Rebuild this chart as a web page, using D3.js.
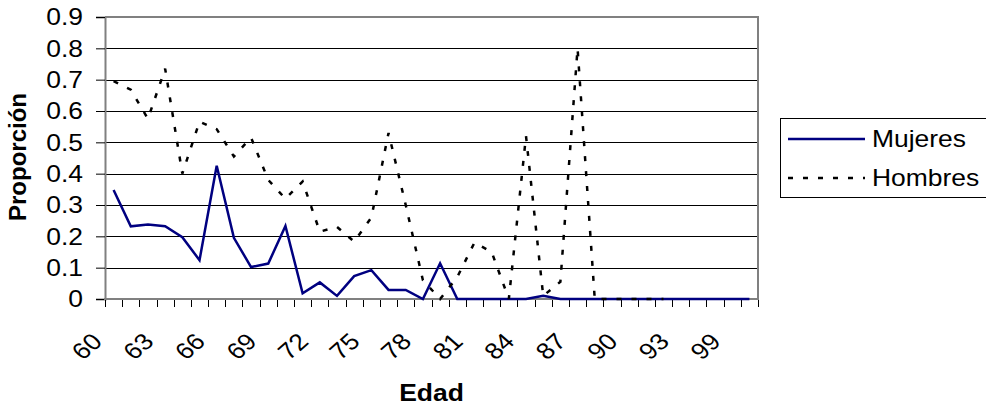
<!DOCTYPE html>
<html>
<head>
<meta charset="utf-8">
<script src="https://cdn.jsdelivr.net/npm/d3@7"></script>
<style>
  body { margin: 0; background: #fff; }
  text { font-family: Arial, "Liberation Sans", sans-serif; }
</style>
</head>
<body>
<div class="canvas"></div>
<script>
// categories (edad) and series
const edades = ['60','61','62','63','64','65','66','67','68','69','70','71','72','73','74','75','76','77','78','79',
                '80','81','82','83','84','85','86','87','88','89','90','91','92','93','95','97','99','100'];
const mujeres = [0.348,0.232,0.238,0.232,0.197,0.124,0.425,0.195,0.102,0.113,0.233,0.018,0.053,0.010,0.073,0.092,0.029,0.029,0,0.114,
                 0,0,0,0,0,0.010,0,0,0,0,0,0,0,0,0,0,0,0];
const hombres = [0.695,0.668,0.575,0.735,0.400,0.566,0.542,0.455,0.515,0.380,0.320,0.375,0.215,0.230,0.183,0.260,0.530,0.300,0.060,0,
                 0.070,0.180,0.150,0,0.520,0.010,0.055,0.800,0,0,0,0,0];
const xTickLabels = ['60','63','66','69','72','75','78','81','84','87','90','93','99'];
const yTicks = [0,0.1,0.2,0.3,0.4,0.5,0.6,0.7,0.8,0.9];

const width = 986, height = 408;
const margin = {top: 17, right: 228, bottom: 109, left: 105};
const graphWidth = width - margin.left - margin.right;
const graphHeight = height - margin.top - margin.bottom;
const fontSize = 23;
const stretch = 1.15;   // text in the reference is a bit wider than tall

const svg = d3.select('.canvas')
  .append('svg')
    .attr('width', width)
    .attr('height', height);

const graph = svg.append('g')
  .attr('transform', `translate(${margin.left}, ${margin.top})`);

const x = d3.scaleBand()
  .domain(edades)
  .range([0, graphWidth])
  .padding(0);

const y = d3.scaleLinear()
  .domain([0, 0.9])
  .range([graphHeight, 0]);

// gridlines
graph.append('g')
  .selectAll('line')
  .data(yTicks.filter(d => d > 0 && d < 0.9))
  .enter().append('line')
    .attr('x1', 0)
    .attr('x2', graphWidth)
    .attr('y1', d => Math.round(y(d)) + 0.5)
    .attr('y2', d => Math.round(y(d)) + 0.5)
    .attr('stroke', '#000')
    .attr('stroke-width', 1);

// plot border (top / right)
graph.append('path')
  .attr('d', `M0,0H${graphWidth}V${graphHeight}`)
  .attr('fill', 'none')
  .attr('stroke', '#808080')
  .attr('stroke-width', 2);

// y axis
const yAxis = d3.axisLeft(y)
  .tickValues(yTicks)
  .tickSize(9)
  .tickFormat('');

const yAxisGroup = graph.append('g').call(yAxis);
yAxisGroup.select('.domain').attr('stroke', '#808080').attr('stroke-width', 2);
yAxisGroup.selectAll('.tick line').attr('stroke', '#000');

graph.append('g')
  .selectAll('text')
  .data(yTicks)
  .enter().append('text')
    .attr('transform', d => `translate(-22, ${y(d)}) scale(${stretch}, 1)`)
    .attr('dy', '0.36em')
    .attr('text-anchor', 'end')
    .attr('font-size', fontSize)
    .attr('fill', '#000')
    .text(d => d === 0 ? '0' : d3.format('.1f')(d));

// x axis: ticks on category boundaries
const bounds = edades.map(d => x(d)).concat([graphWidth]);
const xAxisGroup = graph.append('g')
  .attr('transform', `translate(0, ${graphHeight})`);

xAxisGroup.selectAll('line')
  .data(bounds)
  .enter().append('line')
    .attr('x1', d => Math.round(d) + 0.5)
    .attr('x2', d => Math.round(d) + 0.5)
    .attr('y1', 0)
    .attr('y2', 8)
    .attr('stroke', '#000');

xAxisGroup.append('line')
  .attr('x1', -1).attr('x2', graphWidth + 1)
  .attr('y1', 0).attr('y2', 0)
  .attr('stroke', '#808080')
  .attr('stroke-width', 2);

xAxisGroup.selectAll('text')
  .data(xTickLabels)
  .enter().append('text')
    .attr('transform', d => `translate(${x(d) + x.bandwidth() / 2 - 10}, 44) scale(${stretch}, 1) rotate(-45)`)
    .attr('text-anchor', 'end')
    .attr('font-size', fontSize)
    .attr('fill', '#000')
    .text(d => d);

// lines
const line = d3.line()
  .x((d, i) => x(edades[i]) + x.bandwidth() / 2)
  .y(d => y(d));

graph.append('path')
  .datum(mujeres)
  .attr('d', line)
  .attr('fill', 'none')
  .attr('stroke', '#000080')
  .attr('stroke-width', 2.5);

graph.append('path')
  .datum(hombres)
  .attr('d', line)
  .attr('fill', 'none')
  .attr('stroke', '#000')
  .attr('stroke-width', 2.5)
  .attr('stroke-dasharray', '5,10');

// axis titles
svg.append('text')
  .attr('transform', `translate(26, 157) rotate(-90)`)
  .attr('text-anchor', 'middle')
  .attr('font-size', 24)
  .attr('font-weight', 'bold')
  .text('Proporción');

svg.append('text')
  .attr('transform', `translate(${margin.left + graphWidth / 2}, 401) scale(${stretch}, 1)`)
  .attr('text-anchor', 'middle')
  .attr('font-size', fontSize)
  .attr('font-weight', 'bold')
  .text('Edad');

// legend
const legend = svg.append('g').attr('transform', 'translate(780, 118)');
legend.append('rect')
  .attr('x', 0.5).attr('y', 0.5)
  .attr('width', 215).attr('height', 79)
  .attr('fill', '#fff')
  .attr('stroke', '#000');

const legendItems = [
  {name: 'Mujeres', color: '#000080', dash: null},
  {name: 'Hombres', color: '#000', dash: '5,10'}
];

legendItems.forEach((item, i) => {
  const ly = 21 + i * 39;
  legend.append('line')
    .attr('x1', 8).attr('x2', 85)
    .attr('y1', ly).attr('y2', ly)
    .attr('stroke', item.color)
    .attr('stroke-width', 2.5)
    .attr('stroke-dasharray', item.dash);
  legend.append('text')
    .attr('transform', `translate(92, ${ly + 8}) scale(${stretch}, 1)`)
    .attr('font-size', fontSize)
    .attr('fill', '#000')
    .text(item.name);
});
</script>
</body>
</html>
